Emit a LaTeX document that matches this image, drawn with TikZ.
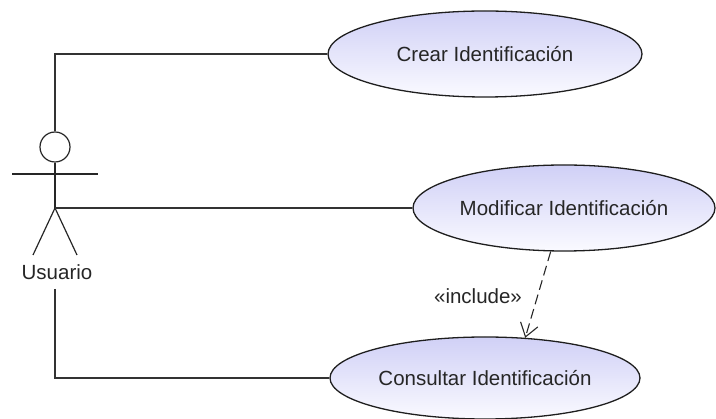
\documentclass[tikz,border=0pt]{standalone}
\usepackage{fontspec}
\setmainfont{Liberation Sans}
\usetikzlibrary{arrows.meta,shapes.geometric}
\definecolor{ucTop}{RGB}{208,208,246}
\definecolor{ucBottom}{RGB}{250,250,255}
\definecolor{ucLine}{RGB}{30,30,30}
\tikzset{
  usecase/.style={ellipse, draw=ucLine, line width=1.3pt, inner sep=0pt,
    top color=ucTop, bottom color=ucBottom, text=black!85,
    font=\fontsize{20.5}{24}\selectfont},
  actorline/.style={line width=1.2pt, draw=black!85},
  assoc/.style={line width=1.1pt, draw=black!80},
  includearrow/.style={line width=1.1pt, draw=black!85, dash pattern=on 10pt off 5pt,
    -{Straight Barb[length=13pt,width=18pt,line width=1.1pt]}},
  lbl/.style={font=\fontsize{20.5}{24}\selectfont, inner sep=1pt, text=black!85}
}
\begin{document}
\begin{tikzpicture}[x=1pt,y=-1pt]
  \useasboundingbox (0,0) rectangle (716,419);

  % use cases
  \node[usecase, minimum width=314pt, minimum height=86pt] (uc1) at (485,54) {Crear Identificación};
  \node[usecase, minimum width=302pt, minimum height=86pt] (uc2) at (564,208) {Modificar Identificación};
  \node[usecase, minimum width=310pt, minimum height=82pt] (uc3) at (485,378) {Consultar Identificación};

  % actor
  \node[circle, draw=black!85, line width=1.2pt, minimum size=30pt, inner sep=0pt] (head) at (55,147) {};
  \coordinate (hip) at (55,208);
  \coordinate (armL) at (12,174);
  \coordinate (armR) at (98,174);
  \coordinate (footL) at (33,255);
  \coordinate (footR) at (77,255);
  \draw[actorline] (head.south) -- (hip);
  \draw[actorline] (armL) -- (armR);
  \draw[actorline] (footL) -- (hip) -- (footR);
  \node[lbl] (usuario) at (57,272) {Usuario};
  \coordinate (below) at (55,289);

  % associations
  \draw[assoc] (head.north) |- (uc1.west);
  \draw[assoc] (hip) -- (uc2.west |- hip);
  \draw[assoc] (below) |- (uc3.west);

  % include dependency
  \draw[includearrow] (uc2.-107) -- (uc3.45);
  \node[lbl] (inc) at (478,296) {«include»};
\end{tikzpicture}
\end{document}
